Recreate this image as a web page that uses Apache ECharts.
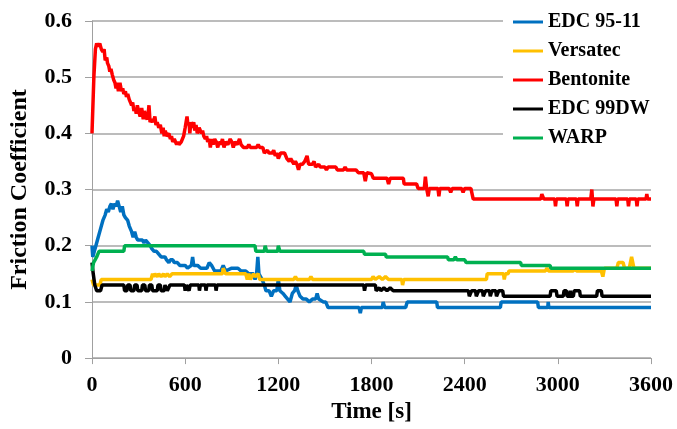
<!DOCTYPE html>
<html>
<head>
<meta charset="utf-8">
<script src="https://cdn.jsdelivr.net/npm/echarts@6/dist/echarts.min.js"></script>
<style>html,body{margin:0;padding:0;background:#fff}#c{width:677px;height:429px}</style>
</head>
<body>
<div id="c"></div>
<script>
const seriesNames = ['EDC 95-11', 'Versatec', 'Bentonite', 'EDC 99DW', 'WARP'];
const xTicks = [0, 600, 1200, 1800, 2400, 3000, 3600];
const yTicks = [0, 0.1, 0.2, 0.3, 0.4, 0.5, 0.6];

const edc9511 = [[0,0.20],[5,0.18],[15,0.19],[25,0.20],[40,0.215],[55,0.23],[70,0.245],[85,0.255],[95,0.265],[105,0.26],[115,0.27],[125,0.275],[135,0.265],[145,0.275],[155,0.27],[165,0.28],[175,0.27],[185,0.26],[195,0.27],[205,0.255],[215,0.25],[230,0.245],[240,0.235],[255,0.225],[265,0.215],[275,0.225],[285,0.215],[295,0.21],[310,0.21],[325,0.21],[335,0.205],[345,0.21],[360,0.205],[375,0.2],[385,0.195],[400,0.19],[415,0.19],[430,0.185],[445,0.18],[470,0.18],[480,0.175],[495,0.17],[505,0.175],[520,0.175],[530,0.17],[550,0.17],[565,0.165],[600,0.165],[615,0.16],[640,0.165],[648,0.18],[655,0.165],[680,0.165],[700,0.16],[740,0.16],[755,0.17],[770,0.165],[790,0.155],[830,0.155],[845,0.165],[860,0.155],[900,0.16],[940,0.16],[960,0.155],[990,0.155],[1010,0.15],[1040,0.15],[1050,0.14],[1060,0.15],[1068,0.18],[1075,0.15],[1085,0.145],[1095,0.14],[1110,0.13],[1120,0.12],[1140,0.12],[1155,0.11],[1170,0.12],[1190,0.12],[1200,0.14],[1210,0.12],[1230,0.115],[1245,0.11],[1260,0.105],[1275,0.1],[1290,0.115],[1305,0.12],[1315,0.13],[1325,0.12],[1340,0.11],[1360,0.105],[1380,0.105],[1400,0.1],[1420,0.105],[1440,0.105],[1450,0.115],[1460,0.105],[1490,0.1],[1505,0.1],[1520,0.09],[1720,0.09],[1728,0.08],[1735,0.09],[1870,0.09],[1875,0.1],[1885,0.09],[2020,0.09],[2030,0.1],[2220,0.1],[2225,0.09],[2630,0.09],[2635,0.1],[2870,0.1],[2875,0.09],[2935,0.09],[2938,0.1],[2942,0.09],[3600,0.09]];

const versatec = [[0,0.14],[10,0.13],[50,0.13],[60,0.14],[380,0.14],[390,0.15],[395,0.145],[405,0.15],[420,0.145],[430,0.15],[445,0.145],[460,0.15],[470,0.145],[485,0.15],[500,0.145],[515,0.15],[840,0.15],[845,0.16],[860,0.15],[990,0.15],[1000,0.14],[1010,0.15],[1020,0.14],[1040,0.15],[1050,0.145],[1070,0.15],[1080,0.14],[1300,0.14],[1310,0.145],[1320,0.14],[1400,0.14],[1410,0.145],[1420,0.14],[1800,0.14],[1810,0.145],[1825,0.14],[1850,0.145],[1870,0.14],[1890,0.145],[1910,0.14],[1995,0.14],[2000,0.13],[2008,0.14],[2540,0.14],[2545,0.15],[2650,0.15],[2655,0.14],[2662,0.15],[2680,0.15],[2685,0.155],[2920,0.155],[2930,0.16],[2940,0.155],[3100,0.155],[3110,0.16],[3120,0.155],[3280,0.155],[3290,0.145],[3300,0.16],[3380,0.16],[3390,0.17],[3420,0.17],[3430,0.16],[3460,0.16],[3475,0.18],[3490,0.16],[3600,0.16]];

const bentonite = [[0,0.40],[12,0.50],[22,0.55],[30,0.56],[40,0.555],[50,0.56],[60,0.55],[70,0.545],[78,0.55],[85,0.53],[95,0.535],[100,0.525],[108,0.52],[115,0.51],[122,0.515],[130,0.505],[140,0.495],[148,0.49],[155,0.48],[162,0.49],[170,0.475],[180,0.49],[190,0.475],[198,0.48],[205,0.47],[215,0.475],[222,0.465],[230,0.47],[240,0.46],[248,0.455],[255,0.45],[262,0.455],[270,0.44],[278,0.445],[285,0.435],[292,0.45],[300,0.44],[310,0.43],[320,0.445],[330,0.425],[338,0.44],[345,0.43],[355,0.425],[362,0.435],[367,0.45],[374,0.42],[385,0.425],[395,0.42],[405,0.43],[412,0.415],[420,0.42],[430,0.41],[440,0.415],[450,0.40],[458,0.41],[465,0.395],[472,0.405],[480,0.395],[495,0.40],[505,0.39],[512,0.395],[520,0.385],[530,0.39],[545,0.38],[553,0.385],[560,0.38],[575,0.385],[590,0.395],[600,0.41],[606,0.42],[612,0.43],[618,0.415],[625,0.42],[630,0.40],[637,0.42],[645,0.41],[655,0.42],[662,0.405],[670,0.415],[678,0.40],[690,0.41],[705,0.40],[712,0.405],[720,0.395],[730,0.39],[738,0.395],[745,0.385],[755,0.39],[762,0.375],[770,0.39],[780,0.38],[790,0.39],[800,0.385],[810,0.375],[818,0.385],[830,0.38],[840,0.39],[850,0.375],[860,0.385],[875,0.38],[890,0.39],[900,0.385],[910,0.375],[920,0.385],[935,0.38],[950,0.39],[960,0.38],[975,0.375],[1000,0.375],[1010,0.38],[1020,0.375],[1060,0.375],[1070,0.38],[1080,0.375],[1100,0.375],[1110,0.365],[1130,0.37],[1140,0.365],[1160,0.365],[1170,0.37],[1180,0.36],[1190,0.365],[1200,0.355],[1215,0.365],[1240,0.365],[1255,0.355],[1270,0.35],[1280,0.355],[1290,0.35],[1300,0.345],[1310,0.35],[1320,0.345],[1330,0.335],[1340,0.345],[1355,0.345],[1370,0.35],[1385,0.36],[1395,0.345],[1420,0.345],[1430,0.35],[1440,0.34],[1460,0.345],[1470,0.34],[1500,0.34],[1510,0.335],[1520,0.34],[1570,0.34],[1580,0.335],[1620,0.335],[1630,0.34],[1640,0.335],[1700,0.335],[1715,0.33],[1750,0.33],[1760,0.315],[1770,0.33],[1800,0.328],[1812,0.32],[1900,0.32],[1910,0.31],[1920,0.32],[2005,0.32],[2010,0.31],[2090,0.31],[2100,0.302],[2140,0.302],[2147,0.323],[2155,0.302],[2165,0.288],[2172,0.302],[2228,0.302],[2234,0.288],[2240,0.302],[2300,0.302],[2310,0.295],[2320,0.302],[2380,0.302],[2390,0.295],[2400,0.302],[2440,0.302],[2455,0.283],[2890,0.283],[2897,0.292],[2910,0.283],[2980,0.283],[2985,0.27],[2990,0.283],[3055,0.283],[3060,0.27],[3065,0.283],[3120,0.283],[3125,0.27],[3130,0.283],[3212,0.283],[3219,0.30],[3226,0.27],[3232,0.283],[3375,0.283],[3380,0.27],[3385,0.283],[3450,0.283],[3455,0.27],[3460,0.283],[3505,0.283],[3510,0.27],[3515,0.283],[3568,0.283],[3573,0.292],[3578,0.283],[3600,0.283]];

const edc99dw = [[0,0.17],[8,0.15],[18,0.13],[30,0.12],[55,0.12],[65,0.13],[205,0.13],[210,0.12],[225,0.12],[230,0.13],[245,0.13],[250,0.12],[270,0.12],[275,0.13],[290,0.13],[295,0.12],[320,0.12],[325,0.13],[340,0.13],[345,0.12],[365,0.12],[370,0.13],[385,0.13],[390,0.12],[420,0.12],[425,0.13],[440,0.13],[445,0.12],[465,0.12],[470,0.13],[480,0.13],[485,0.12],[497,0.12],[502,0.13],[595,0.13],[600,0.12],[608,0.13],[620,0.13],[625,0.12],[632,0.13],[688,0.13],[692,0.12],[698,0.13],[730,0.13],[734,0.12],[740,0.13],[795,0.13],[799,0.12],[805,0.13],[1750,0.13],[1755,0.12],[1762,0.13],[1825,0.13],[1830,0.12],[1850,0.125],[1860,0.12],[1880,0.125],[1900,0.12],[1920,0.125],[1940,0.12],[2424,0.12],[2430,0.11],[2445,0.12],[2470,0.12],[2475,0.11],[2490,0.12],[2515,0.12],[2520,0.11],[2535,0.12],[2560,0.12],[2565,0.11],[2575,0.12],[2600,0.12],[2605,0.11],[2620,0.12],[2645,0.12],[2650,0.11],[2950,0.11],[2955,0.12],[2990,0.12],[2995,0.11],[3035,0.11],[3040,0.12],[3055,0.12],[3060,0.11],[3075,0.11],[3080,0.12],[3085,0.11],[3100,0.11],[3105,0.12],[3140,0.12],[3145,0.11],[3250,0.11],[3255,0.12],[3280,0.12],[3285,0.11],[3600,0.11]];

const warp = [[0,0.155],[10,0.17],[20,0.175],[30,0.18],[40,0.18],[45,0.19],[205,0.19],[210,0.2],[1050,0.2],[1055,0.19],[1110,0.19],[1115,0.2],[1125,0.19],[1195,0.19],[1200,0.2],[1210,0.19],[1750,0.19],[1755,0.185],[1890,0.185],[1895,0.18],[2290,0.18],[2295,0.175],[2330,0.175],[2340,0.18],[2350,0.175],[2400,0.175],[2410,0.17],[2760,0.17],[2765,0.165],[2950,0.165],[2955,0.16],[3600,0.16]];

const seriesData = [edc9511, versatec, bentonite, edc99dw, warp];
const colors = ['#0070C0', '#FFC000', '#FF0000', '#000000', '#00B050'];

const FONT = "'Liberation Serif','Times New Roman',serif";
const chart = echarts.init(document.getElementById('c'), null, {renderer: 'canvas'});
chart.setOption({
  animation: false,
  backgroundColor: '#fff',
  grid: {left: 91, right: 26, top: 21, bottom: 64},
  legend: {
    data: seriesNames,
    orient: 'vertical',
    left: 503, top: 1,
    padding: [10, 10, 10, 10],
    backgroundColor: '#fff',
    icon: 'rect', itemWidth: 30, itemHeight: 3, itemGap: 7,
    selectedMode: false,
    textStyle: {fontFamily: FONT, fontWeight: 'bold', fontSize: 20, color: '#000', lineHeight: 22}
  },
  xAxis: {
    type: 'value', min: xTicks[0], max: xTicks[xTicks.length - 1], interval: 600,
    name: 'Time [s]', nameLocation: 'middle', nameGap: 41,
    nameTextStyle: {fontFamily: FONT, fontWeight: 'bold', fontSize: 23, color: '#000'},
    axisLine: {show: true, lineStyle: {color: '#A0A0A0', width: 1}},
    axisTick: {show: true, length: 6, lineStyle: {color: '#A0A0A0'}},
    axisLabel: {fontFamily: FONT, fontWeight: 'bold', fontSize: 22, color: '#000', margin: 16,
      formatter: v => String(v)},
    splitLine: {show: false}
  },
  yAxis: {
    type: 'value', min: yTicks[0], max: yTicks[yTicks.length - 1], interval: 0.1,
    name: 'Friction Coefficient', nameLocation: 'middle', nameGap: 60, nameRotate: 90,
    nameTextStyle: {fontFamily: FONT, fontWeight: 'bold', fontSize: 24, color: '#000'},
    axisLine: {show: true, lineStyle: {color: '#A0A0A0', width: 1}},
    axisTick: {show: true, length: 7, lineStyle: {color: '#A0A0A0'}},
    axisLabel: {fontFamily: FONT, fontWeight: 'bold', fontSize: 22, color: '#000', margin: 20,
      formatter: v => v === 0 ? '0' : v.toFixed(1)},
    splitLine: {show: true, lineStyle: {color: '#A6A6A6', width: 1.5}}
  },
  series: seriesNames.map((n, i) => ({
    name: n, type: 'line', data: seriesData[i], color: colors[i],
    showSymbol: false, symbol: 'none', z: 2 + i,
    lineStyle: {color: colors[i], width: 3.5},
    itemStyle: {color: colors[i]}
  }))
});
</script>
</body>
</html>
